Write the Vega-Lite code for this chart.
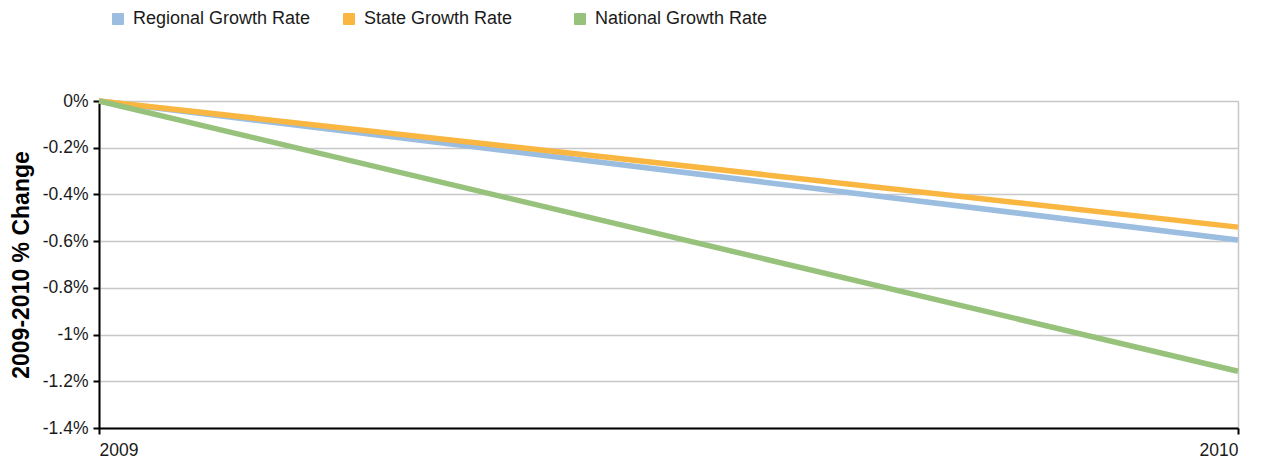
{
  "$schema": "https://vega.github.io/schema/vega-lite/v6.json",
  "autosize": {"type": "none"},
  "padding": {"left": 99, "top": 101, "right": 36, "bottom": 35},
  "width": 1139,
  "height": 327,
  "background": "white",
  "config": {
    "font": "Liberation Sans",
    "view": {"stroke": null}
  },
  "data": {
    "values": [
      {"year": 2009, "series": "Regional Growth Rate", "change": 0},
      {"year": 2010, "series": "Regional Growth Rate", "change": -0.595},
      {"year": 2009, "series": "State Growth Rate", "change": 0},
      {"year": 2010, "series": "State Growth Rate", "change": -0.54},
      {"year": 2009, "series": "National Growth Rate", "change": 0},
      {"year": 2010, "series": "National Growth Rate", "change": -1.157}
    ]
  },
  "mark": {"type": "line", "strokeWidth": 5.5, "strokeCap": "butt"},
  "encoding": {
    "x": {
      "field": "year",
      "type": "quantitative",
      "scale": {"domain": [2009, 2010], "nice": false, "zero": false},
      "axis": {
        "values": [2009, 2010],
        "format": "d",
        "title": null,
        "domainColor": "black",
        "domainWidth": 2,
        "tickColor": "black",
        "tickWidth": 2,
        "tickSize": 6,
        "labelFontSize": 17.5,
        "labelColor": "#1a1a1a",
        "labelPadding": 7,
        "grid": true,
        "gridColor": "#c8c8c8",
        "gridWidth": 1.5
      }
    },
    "y": {
      "field": "change",
      "type": "quantitative",
      "scale": {"domain": [-1.4, 0], "nice": false},
      "axis": {
        "values": [0, -0.2, -0.4, -0.6, -0.8, -1, -1.2, -1.4],
        "labelExpr": "datum.value + '%'",
        "title": "2009-2010 % Change",
        "titleFontSize": 23,
        "titleFontWeight": "bold",
        "titleColor": "black",
        "titlePadding": 9,
        "domainColor": "black",
        "domainWidth": 2,
        "tickColor": "black",
        "tickWidth": 2,
        "tickSize": 6,
        "labelFontSize": 17.5,
        "labelColor": "#1a1a1a",
        "labelPadding": 5,
        "grid": true,
        "gridColor": "#c8c8c8",
        "gridWidth": 1.5
      }
    },
    "color": {
      "field": "series",
      "type": "nominal",
      "scale": {
        "domain": ["Regional Growth Rate", "State Growth Rate", "National Growth Rate"],
        "range": ["#9bbde0", "#f9b640", "#97c27c"]
      },
      "legend": {
        "title": null,
        "orient": "none",
        "legendX": 10,
        "legendY": -91,
        "direction": "horizontal",
        "columns": 3,
        "gridAlign": "all",
        "columnPadding": 29,
        "symbolType": "square",
        "symbolSize": 121,
        "labelFontSize": 18,
        "labelLimit": 400,
        "labelColor": "#1a1a1a",
        "labelOffset": 6,
        "encode": {
          "symbols": {"update": {"fill": {"scale": "color", "field": "value"}, "fillOpacity": {"value": 1}, "stroke": {"value": "#555"}, "strokeWidth": {"value": 1}}}
        }
      }
    },
    "order": {"field": "series"}
  }
}
